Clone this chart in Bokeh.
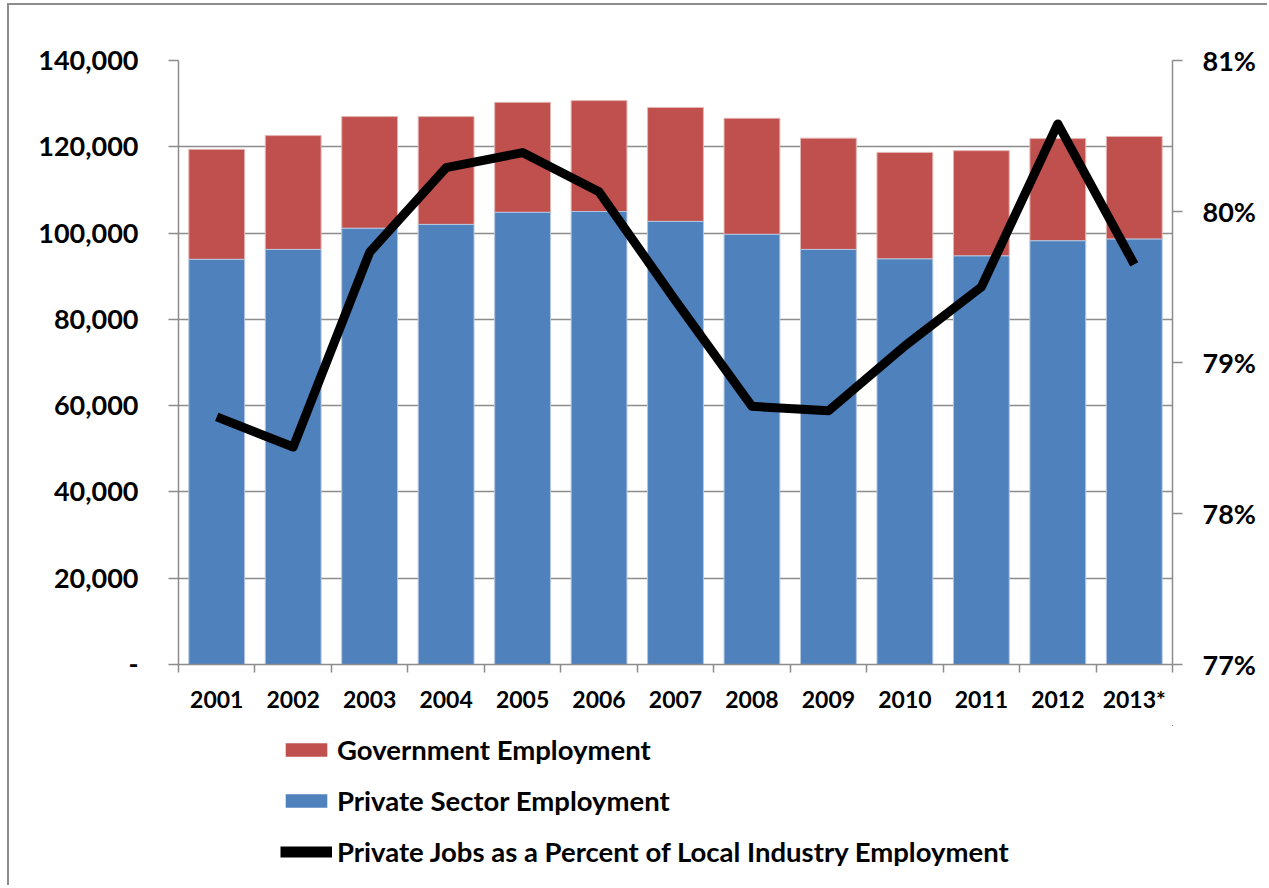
import numpy as np
from bokeh.plotting import figure
from bokeh.layouts import column
from bokeh.models import (Range1d, LinearAxis, FixedTicker, NumeralTickFormatter,
                          PrintfTickFormatter, Legend, LegendItem, ColumnDataSource)
from bokeh.embed import file_html
from bokeh.resources import INLINE

years = ["2001", "2002", "2003", "2004", "2005", "2006", "2007",
         "2008", "2009", "2010", "2011", "2012", "2013*"]
private = [93900, 96200, 101100, 102000, 104800, 105000, 102700,
           99700, 96200, 94000, 94700, 98200, 98600]
government = [25500, 26400, 25900, 25000, 25500, 25700, 26400,
              26900, 25800, 24700, 24400, 23700, 23800]
pct_private = [78.64, 78.44, 79.73, 80.29, 80.39, 80.13, 79.41,
               78.71, 78.68, 79.11, 79.50, 80.58, 79.65]
left_ticks = [0, 20000, 40000, 60000, 80000, 100000, 120000, 140000]
right_ticks = [77, 78, 79, 80, 81]
series_labels = ["Government Employment", "Private Sector Employment",
                 "Private Jobs as a Percent of Local Industry Employment"]

n = len(years)
xc = list(np.arange(n) + 0.5)
bounds = list(np.arange(n + 1).astype(float))
total = [p_ + g_ for p_, g_ in zip(private, government)]

src = ColumnDataSource(dict(x=xc, private=private, total=total, pct=pct_private))

FONT = "Lato"
GRAY = "#8c8c8c"
RED = "#C0504D"
BLUE = "#4F81BD"

p = figure(width=1258, height=720, output_backend="svg", toolbar_location=None,
           x_range=Range1d(0, n), y_range=Range1d(0, 140000),
           min_border_left=169, min_border_top=55, min_border_right=95,
           min_border_bottom=61)
p.extra_y_ranges = {"pct": Range1d(77, 81)}
p.outline_line_color = None
p.background_fill_color = "white"
p.border_fill_color = "white"

gov_r = p.vbar(x="x", bottom="private", top="total", width=0.73, source=src,
               fill_color=RED, line_color="#e3b5b4", line_width=1)
priv_r = p.vbar(x="x", bottom=0, top="private", width=0.73, source=src,
                fill_color=BLUE, line_color="#b3c6e0", line_width=1)
line_r = p.line(x="x", y="pct", source=src, y_range_name="pct",
                line_color="black", line_width=9, line_join="round")

# x axis
xa = p.xaxis[0]
xa.ticker = FixedTicker(ticks=xc, minor_ticks=bounds)
xa.major_label_overrides = {float(x): y for x, y in zip(xc, years)}
xa.major_tick_in = 0
xa.major_tick_out = 0
xa.minor_tick_in = 0
xa.minor_tick_out = 8
xa.minor_tick_line_color = GRAY
xa.minor_tick_line_width = 1.5
xa.axis_line_color = GRAY
xa.axis_line_width = 1.5
xa.major_label_text_font = FONT
xa.major_label_text_font_style = "bold"
xa.major_label_text_font_size = "23px"
xa.major_label_text_color = "black"
xa.major_label_standoff = 12

# left axis
ya = p.yaxis[0]
ya.ticker = FixedTicker(ticks=left_ticks)
ya.formatter = NumeralTickFormatter(format="0,0")
ya.major_label_overrides = {0: "-"}
ya.major_tick_in = 0
ya.major_tick_out = 10
ya.minor_tick_line_color = None
ya.major_tick_line_color = GRAY
ya.major_tick_line_width = 1.5
ya.axis_line_color = GRAY
ya.axis_line_width = 1.5
ya.major_label_text_font = FONT
ya.major_label_text_font_style = "bold"
ya.major_label_text_font_size = "27px"
ya.major_label_text_color = "black"
ya.major_label_standoff = 30

# right axis
ra = LinearAxis(y_range_name="pct", ticker=FixedTicker(ticks=right_ticks),
                formatter=PrintfTickFormatter(format="%d%%"))
ra.major_tick_in = 0
ra.major_tick_out = 10
ra.minor_tick_line_color = None
ra.major_tick_line_color = GRAY
ra.major_tick_line_width = 1.5
ra.axis_line_color = GRAY
ra.axis_line_width = 1.5
ra.major_label_text_font = FONT
ra.major_label_text_font_style = "bold"
ra.major_label_text_font_size = "27px"
ra.major_label_text_color = "black"
ra.major_label_standoff = 20
p.add_layout(ra, "right")

p.xgrid.visible = False
p.ygrid.ticker = FixedTicker(ticks=left_ticks)
p.ygrid.grid_line_color = GRAY
p.ygrid.grid_line_width = 1.5

# legend panel below the chart (proxy renderers of the same data, kept out of view)
lf = figure(width=1258, height=160, output_backend="svg", toolbar_location=None,
            x_axis_type=None, y_axis_type=None,
            x_range=Range1d(-100, -99), y_range=Range1d(-100, -99),
            min_border=0, min_border_left=0, min_border_right=0,
            min_border_top=0, min_border_bottom=0)
lf.outline_line_color = None
lf.grid.visible = False
lf.background_fill_color = "white"
lf.border_fill_color = "white"
lg_gov = lf.vbar(x="x", bottom="private", top="total", width=0.73, source=src,
                 fill_color=RED, line_color=None)
lg_priv = lf.vbar(x="x", bottom=0, top="private", width=0.73, source=src,
                  fill_color=BLUE, line_color=None)
lg_line = lf.line(x="x", y="pct", source=src, line_color="black", line_width=11)

legend = Legend(items=[
    LegendItem(label=series_labels[0], renderers=[lg_gov]),
    LegendItem(label=series_labels[1], renderers=[lg_priv]),
    LegendItem(label=series_labels[2], renderers=[lg_line]),
], location=(102, 17), orientation="vertical")
legend.border_line_color = None
legend.background_fill_alpha = 0
legend.padding = 0
legend.margin = 0
legend.spacing = 18
legend.glyph_width = 52
legend.glyph_height = 17
legend.label_height = 30
legend.label_standoff = 5
legend.label_text_font = FONT
legend.label_text_font_style = "bold"
legend.label_text_font_size = "27.5px"
legend.label_text_color = "black"
legend.label_text_baseline = "middle"
lf.add_layout(legend, "center")

layout = column(p, lf, spacing=0,
                styles={"margin-left": "7px", "margin-top": "3px",
                        "border-left": "2px solid #8c8c8c", "border-top": "2px solid #8c8c8c"})

open("out.html", "w").write(file_html(layout, INLINE))
